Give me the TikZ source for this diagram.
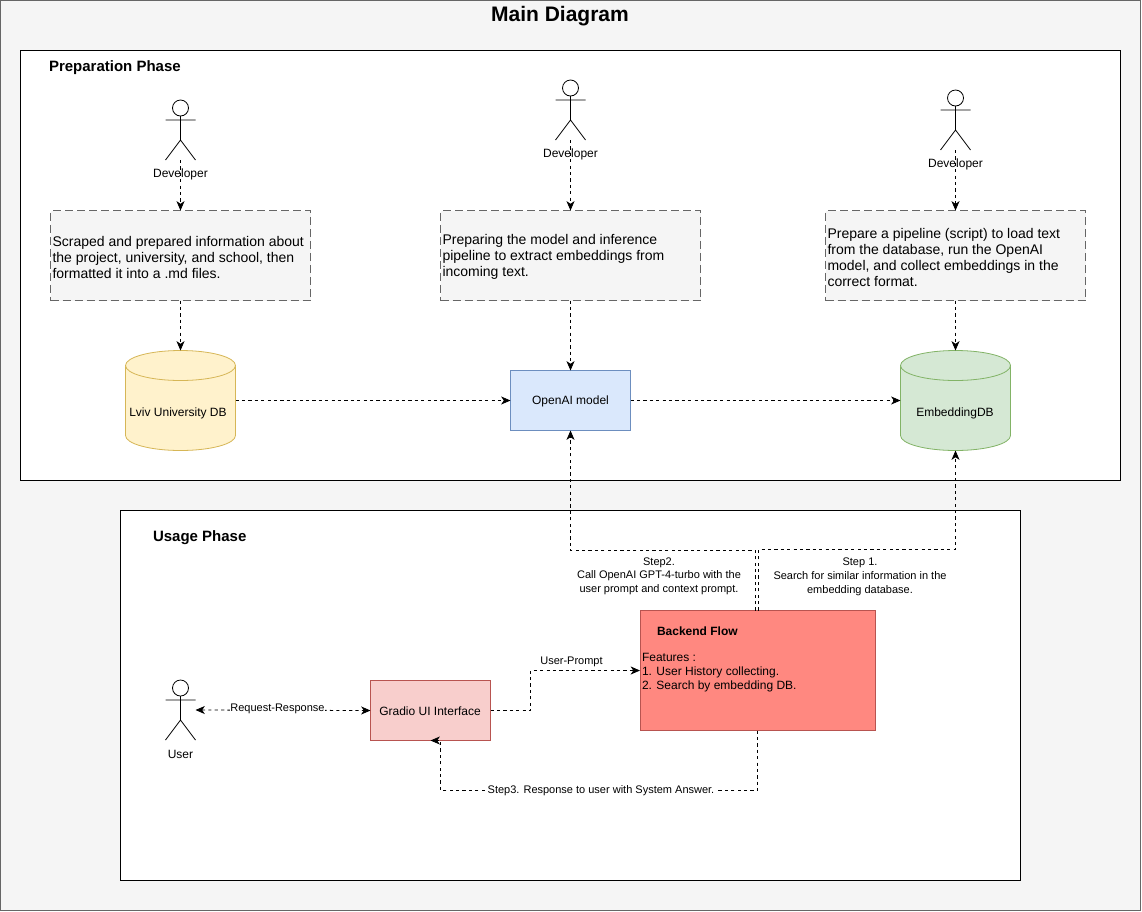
\documentclass[tikz,border=0pt]{standalone}
\usepackage{fontspec}
\setmainfont{Liberation Sans}
\usetikzlibrary{arrows.meta,calc,positioning,shapes.geometric}
\definecolor{framefill}{HTML}{F5F5F5}
\definecolor{framedraw}{HTML}{666666}
\definecolor{notefill}{HTML}{F5F5F5}
\definecolor{yfill}{HTML}{FFF2CC}\definecolor{ydraw}{HTML}{D6B656}
\definecolor{bfill}{HTML}{DAE8FC}\definecolor{bdraw}{HTML}{6C8EBF}
\definecolor{gfill}{HTML}{D5E8D4}\definecolor{gdraw}{HTML}{82B366}
\definecolor{rfill}{HTML}{F8CECC}\definecolor{rdraw}{HTML}{B85450}
\definecolor{bkfill}{HTML}{FF8880}\definecolor{bkdraw}{HTML}{B85450}
\newcommand{\fsmall}{\fontsize{9pt}{10.5pt}\selectfont}
\newcommand{\ftiny}{\fontsize{8.25pt}{10pt}\selectfont}
\newcommand{\fmid}{\fontsize{10.5pt}{12pt}\selectfont}
\newcommand{\fhead}{\fontsize{11.25pt}{13pt}\selectfont}
\newcommand{\notestrut}{\rule{0pt}{10pt}}
\tikzset{
  x=0.75pt,y=-0.75pt,
  every node/.style={inner sep=0pt,outer sep=0pt,text=black},
  flow/.style={draw=black,line width=0.6pt,dash pattern=on 2.4pt off 2.4pt,-{Stealth[length=7pt,width=6pt,inset=2pt]}},
  flowboth/.style={flow,{Stealth[length=7pt,width=6pt,inset=2pt]}-{Stealth[length=7pt,width=6pt,inset=2pt]}},
  phasebox/.style={draw=black,fill=white,line width=0.6pt,anchor=north west},
  notebox/.style={draw=framedraw,fill=notefill,line width=0.5pt,dash pattern=on 6pt off 3pt,minimum width=195pt,minimum height=67.5pt,font=\fmid,align=flush left,text width=192pt},
  colbox/.style={line width=0.6pt,minimum width=90pt,minimum height=45pt,font=\fsmall,align=center},
  dbanchor/.style={minimum width=82.5pt,minimum height=75pt},
  actorbox/.style={minimum width=22.5pt,minimum height=45pt},
  actorline/.style={draw=black,line width=0.6pt},
  steplabel/.style={font=\fsmall,align=center},
  tinylabel/.style={font=\ftiny,align=center},
  whitelabel/.style={font=\ftiny,fill=white,inner sep=0.4pt},
}
\newcommand{\actor}[3]{%
  \node[actorbox] (#1) at (#2,#3) {};
  \begin{scope}[shift={(#1.center)}]
    \draw[actorline] (0,-22) circle[radius=8];
    \draw[actorline] (0,-14) -- (0,10) (-15,-10) -- (15,-10) (-15,30) -- (0,10) -- (15,30);
  \end{scope}}
\newcommand{\dbcyl}[5]{%
  \node[dbanchor] (#1) at (#2,#3) {};
  \begin{scope}[shift={(#1.center)},line width=0.6pt]
    \draw[draw=#4,fill=#5] (-55,-35) -- (-55,35) arc[start angle=180,end angle=0,x radius=55,y radius=15] -- (55,-35) -- cycle;
    \draw[draw=#4,fill=#5] (0,-35) circle[x radius=55,y radius=15];
  \end{scope}}
\begin{document}
\begin{tikzpicture}
\useasboundingbox (0,0) rectangle (1142,911);
\node[phasebox,draw=framedraw,fill=framefill,minimum width=855pt,minimum height=682.5pt] (frame) at (0,0) {};
\node[font=\bfseries\fontsize{15.75pt}{18pt}\selectfont] (title) at (560,16) {Main Diagram};

\node[phasebox,minimum width=825pt,minimum height=322.5pt] (prep) at (20.5,50.5) {};
\node[font=\bfseries\fhead,anchor=west] (preptitle) at (49,67.5) {Preparation Phase};

\node[phasebox,minimum width=675pt,minimum height=277.5pt] (usage) at (120.5,510.5) {};
\node[font=\bfseries\fhead,anchor=west] (usagetitle) at (153,537.5) {Usage Phase};

\actor{dev1}{180.5}{130}
\actor{dev2}{570.5}{110}
\actor{dev3}{955.5}{120}
\actor{user}{180.5}{710}
\node[steplabel] (dev1l) at (180.5,174.5) {Developer};
\node[steplabel] (dev2l) at (570.5,154.5) {Developer};
\node[steplabel] (dev3l) at (955.5,164.5) {Developer};
\node[steplabel] (userl) at (180.5,754) {User};

\node[notebox] (note1) at (180.5,255.5) {\notestrut Scraped and prepared information about the project, university, and school, then formatted it into a .md files.};
\node[notebox] (note2) at (570.5,255.5) {\notestrut Preparing the model and inference pipeline to extract embeddings from incoming text.};
\node[notebox] (note3) at (955.5,255.5) {\notestrut Prepare a pipeline (script) to load text from the database, run the OpenAI model, and collect embeddings in the correct format.};

\dbcyl{lviv}{180.5}{400.5}{ydraw}{yfill}
\node[font=\fsmall] (lvivt) at (178,413.5) {Lviv University DB};
\node[colbox,draw=bdraw,fill=bfill] (openai) at (570.5,400.5) {};
\node[font=\fsmall] (openait) at (570.5,401.5) {OpenAI model};
\dbcyl{embed}{955.5}{400.5}{gdraw}{gfill}
\node[font=\fsmall] (embedt) at (955,413.5) {EmbeddingDB};

\node[colbox,draw=rdraw,fill=rfill] (gradio) at (430.5,710.5) {};
\node[font=\fsmall] (gradiot) at (430,711.5) {Gradio UI Interface};
\node[draw=bkdraw,fill=bkfill,line width=0.6pt,minimum width=176.25pt,minimum height=90pt] (backend) at (757.5,670.5) {};
\node[font=\bfseries\fsmall,anchor=west] (backendt) at (657,631.5) {Backend Flow};
\node[font=\fsmall,anchor=north west,align=left] (backendf) at (642,653) {Features :\\1. User History collecting.\\2. Search by embedding DB.};

\draw[flow] (dev1.south) -- (note1.north);
\draw[flow] (dev2.south) -- (note2.north);
\draw[flow] (dev3.south) -- (note3.north);
\draw[flow] (note1.south) -- (lviv.north);
\draw[flow] (note2.south) -- (openai.north);
\draw[flow] (note3.south) -- (embed.north);
\draw[flow] (lviv.east) -- (openai.west);
\draw[flow] (openai.east) -- (embed.west);

\coordinate (b2) at ($(backend.north)+(-2,0)$);
\coordinate (b1) at ($(backend.north)+(1,0)$);
\coordinate (g3) at ($(gradio.south)+(10,0)$);
\draw[flow] (b2) |- (570.5,550.5) -- (openai.south);
\draw[flow] (b1) |- (955.5,549.5) -- (embed.south);
\draw[flow] (gradio.east) -- (530.5,710.5) |- (backend.west);
\draw[flow] (backend.south) -- (757.5,790.5) -- (440.5,790.5) -- (g3) -- (gradio.south);
\draw[flowboth] (user.east) -- (gradio.west);

\node[tinylabel] (s2) at (659,576) {Step2.\\Call OpenAI GPT-4-turbo with the\\user prompt and context prompt.};
\node[tinylabel,font=\fontsize{8.25pt}{10.35pt}\selectfont] (s1) at (860,577) {Step 1.\\Search for similar information in the\\embedding database.};
\node[whitelabel] (rr) at (277.5,708.5) {Request-Response};
\node[tinylabel] (up) at (571.5,661.5) {User-Prompt};
\node[whitelabel] (s3) at (601,790.5) {Step3. Response to user with System Answer.};
\end{tikzpicture}
\end{document}
